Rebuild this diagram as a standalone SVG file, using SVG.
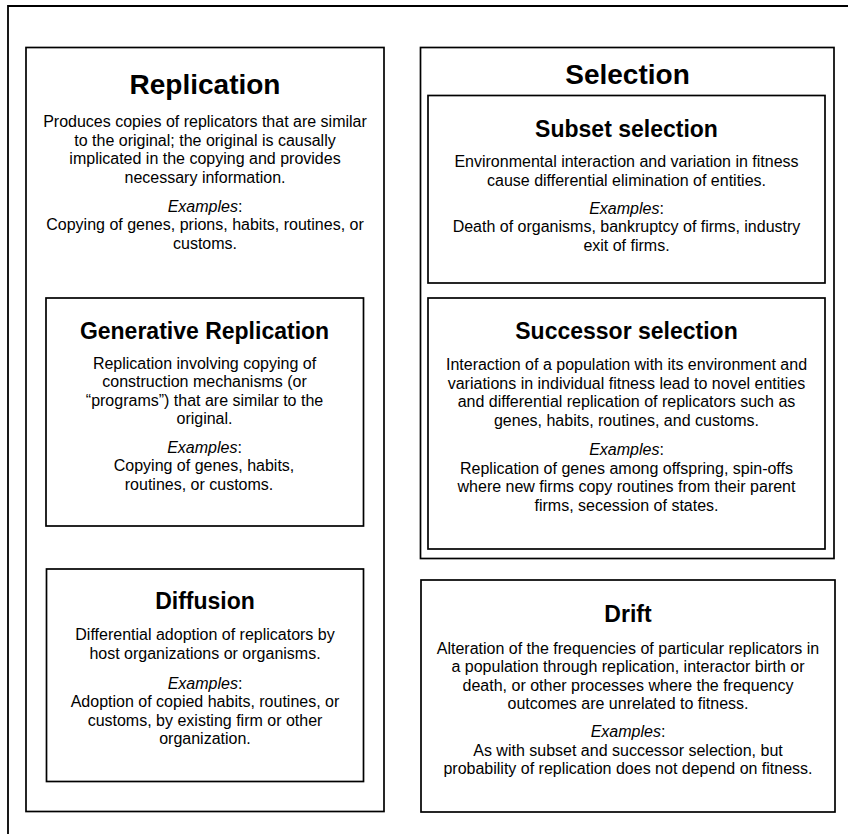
<svg xmlns="http://www.w3.org/2000/svg" width="848" height="835" viewBox="0 0 848 835">
<style>
  .box { fill: none; stroke: #000; stroke-width: 1.7; }
  .frame { fill: none; stroke: #000; stroke-width: 1.8; }
  text { font-family: "Liberation Sans", Arial, sans-serif; fill: #000; text-anchor: middle; }
  .t1 { font-size: 28px; font-weight: bold; }
  .t2 { font-size: 23px; font-weight: bold; }
  .b { font-size: 16px; }
  .i { font-size: 16px; font-style: italic; }
</style>
<rect x="0" y="0" width="848" height="835" fill="#fff"/>
<path class="frame" d="M8 834 V6 H848"/>

<g id="replication">
  <rect class="box" x="26" y="47.5" width="358" height="764"/>
  <text class="t1" x="205" y="94">Replication</text>
  <text class="b" x="205" y="127">Produces copies of replicators that are similar</text>
  <text class="b" x="205" y="145.5">to the original; the original is causally</text>
  <text class="b" x="205" y="164">implicated in the copying and provides</text>
  <text class="b" x="205" y="182.5">necessary information.</text>
  <text class="i" x="205" y="211.5">Examples<tspan font-style="normal">:</tspan></text>
  <text class="b" x="205" y="230">Copying of genes, prions, habits, routines, or</text>
  <text class="b" x="205" y="248.5">customs.</text>
</g>

<g id="generative-replication">
  <rect class="box" x="46" y="298" width="317.5" height="228"/>
  <text class="t2" x="204.5" y="338.5" font-size="22.5">Generative Replication</text>
  <text class="b" x="204.5" y="368.5">Replication involving copying of</text>
  <text class="b" x="204.5" y="387">construction mechanisms (or</text>
  <text class="b" x="204.5" y="405.5">“programs”) that are similar to the</text>
  <text class="b" x="204.5" y="424">original.</text>
  <text class="i" x="204.5" y="452.5">Examples<tspan font-style="normal">:</tspan></text>
  <text class="b" x="204" y="471">Copying of genes, habits,</text>
  <text class="b" x="199" y="489.5">routines, or customs.</text>
</g>

<g id="diffusion">
  <rect class="box" x="46.5" y="569" width="317" height="212.5"/>
  <text class="t2" x="205" y="608.5" font-size="22">Diffusion</text>
  <text class="b" x="205" y="640">Differential adoption of replicators by</text>
  <text class="b" x="205" y="658.5">host organizations or organisms.</text>
  <text class="i" x="205" y="688.5">Examples<tspan font-style="normal">:</tspan></text>
  <text class="b" x="205" y="707">Adoption of copied habits, routines, or</text>
  <text class="b" x="205" y="725.5">customs, by existing firm or other</text>
  <text class="b" x="205" y="744">organization.</text>
</g>

<g id="selection">
  <rect class="box" x="420.5" y="47.5" width="413.5" height="511"/>
  <text class="t1" x="627.5" y="83.5">Selection</text>
</g>

<g id="subset-selection">
  <rect class="box" x="428" y="95.5" width="397" height="187.5"/>
  <text class="t2" x="626.5" y="137">Subset selection</text>
  <text class="b" x="626.5" y="167">Environmental interaction and variation in fitness</text>
  <text class="b" x="626.5" y="185.5">cause differential elimination of entities.</text>
  <text class="i" x="626.5" y="213.5">Examples<tspan font-style="normal">:</tspan></text>
  <text class="b" x="626.5" y="232">Death of organisms, bankruptcy of firms, industry</text>
  <text class="b" x="626.5" y="250.5">exit of firms.</text>
</g>

<g id="successor-selection">
  <rect class="box" x="428" y="298" width="397" height="251"/>
  <text class="t2" x="626.5" y="338.5" font-size="24">Successor selection</text>
  <text class="b" x="626.5" y="370">Interaction of a population with its environment and</text>
  <text class="b" x="626.5" y="388.5">variations in individual fitness lead to novel entities</text>
  <text class="b" x="626.5" y="407">and differential replication of replicators such as</text>
  <text class="b" x="626.5" y="425.5">genes, habits, routines, and customs.</text>
  <text class="i" x="626.5" y="455">Examples<tspan font-style="normal">:</tspan></text>
  <text class="b" x="626.5" y="473.5">Replication of genes among offspring, spin-offs</text>
  <text class="b" x="626.5" y="492">where new firms copy routines from their parent</text>
  <text class="b" x="626.5" y="510.5">firms, secession of states.</text>
</g>

<g id="drift">
  <rect class="box" x="421" y="580" width="414" height="232"/>
  <text class="t2" x="628" y="622" font-size="24">Drift</text>
  <text class="b" x="628" y="653.5">Alteration of the frequencies of particular replicators in</text>
  <text class="b" x="628" y="672">a population through replication, interactor birth or</text>
  <text class="b" x="628" y="690.5">death, or other processes where the frequency</text>
  <text class="b" x="628" y="709">outcomes are unrelated to fitness.</text>
  <text class="i" x="628" y="737">Examples<tspan font-style="normal">:</tspan></text>
  <text class="b" x="628" y="755.5">As with subset and successor selection, but</text>
  <text class="b" x="628" y="774">probability of replication does not depend on fitness.</text>
</g>

<g id="connectors"></g>
</svg>
